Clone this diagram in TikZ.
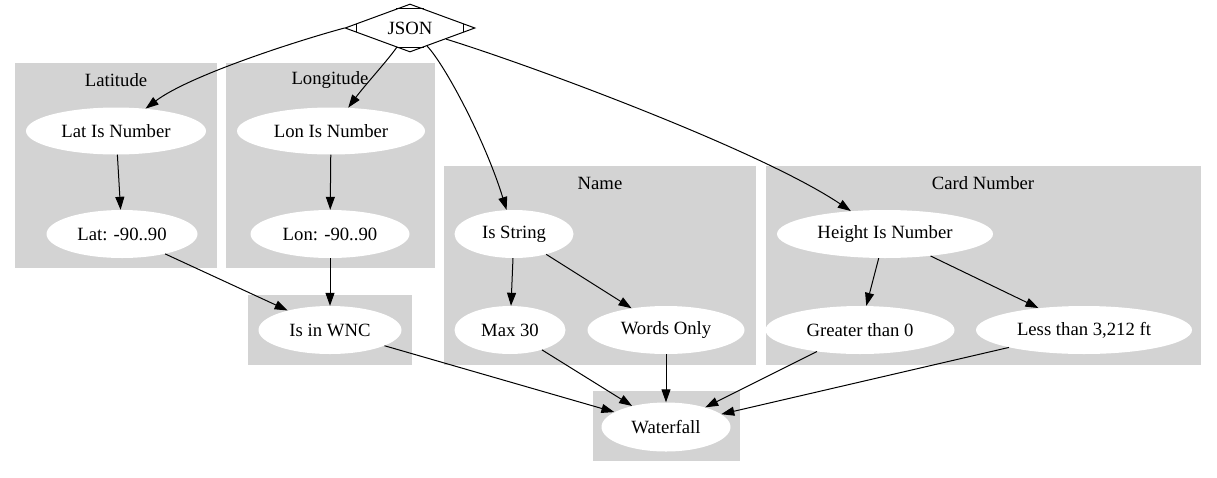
\documentclass[tikz,border=0pt]{standalone}
\usepackage{fontspec}
\setmainfont{Liberation Serif}
\usetikzlibrary{shapes.geometric,arrows.meta,calc}
\definecolor{clustergray}{HTML}{D3D3D3}
\tikzset{
  clusterbox/.style={fill=clustergray, draw=none},
  ell/.style={ellipse, fill=white, draw=none, inner sep=0pt, font=\fontsize{18.7}{22}\selectfont},
  lbl/.style={font=\fontsize{18.7}{22}\selectfont, inner sep=0pt},
  edge/.style={draw=black, line width=1pt, -{Triangle[length=13pt,width=9pt]}},
}
\begin{document}
\begin{tikzpicture}[x=1pt,y=-1pt]
\useasboundingbox (0,0) rectangle (1217,477);
% clusters
\fill[clusterbox] (15,63) rectangle (217,268);
\fill[clusterbox] (226,63) rectangle (435,268);
\fill[clusterbox] (248,295) rectangle (412,365);
\fill[clusterbox] (444,166) rectangle (756,365);
\fill[clusterbox] (766,166) rectangle (1201,365);
\fill[clusterbox] (593,391) rectangle (740,461);
% cluster labels
\node[lbl] (clat) at (116,80) {Latitude};
\node[lbl] (clon) at (330,80) {Longitude};
\node[lbl] (cname) at (600,183) {Name};
\node[lbl] (ccard) at (983,183) {Card Number};
% JSON Mdiamond
\node[diamond, aspect=2.7, draw, line width=1pt, fill=white, minimum width=130pt, minimum height=48pt, inner sep=0pt, font=\fontsize{18.7}{22}\selectfont] (json) at (410,28) {JSON};
\draw[line width=1pt] ($(json.north)!0.22!(json.west)$) -- ($(json.north)!0.22!(json.east)$);
\draw[line width=1pt] ($(json.south)!0.22!(json.west)$) -- ($(json.south)!0.22!(json.east)$);
\draw[line width=1pt] ($(json.west)!0.18!(json.north)$) -- ($(json.west)!0.18!(json.south)$);
\draw[line width=1pt] ($(json.east)!0.18!(json.north)$) -- ($(json.east)!0.18!(json.south)$);
% nodes
\node[ell, minimum width=180pt, minimum height=47pt] (latnum) at (116,131) {Lat Is Number};
\node[ell, minimum width=151pt, minimum height=48pt] (lat) at (122,234) {Lat: -90..90};
\node[ell, minimum width=188pt, minimum height=47pt] (lonnum) at (331,131) {Lon Is Number};
\node[ell, minimum width=159pt, minimum height=48pt] (lon) at (330,234) {Lon: -90..90};
\node[ell, minimum width=143pt, minimum height=48pt] (wnc) at (330,330) {Is in WNC};
\node[ell, minimum width=119pt, minimum height=48pt] (isstr) at (514,234) {Is String};
\node[ell, minimum width=111pt, minimum height=48pt] (max) at (510,330) {Max 30};
\node[ell, minimum width=157pt, minimum height=48pt] (words) at (666,330) {Words Only};
\node[ell, minimum width=129pt, minimum height=49pt] (water) at (666,427) {Waterfall};
\node[ell, minimum width=216pt, minimum height=48pt] (height) at (885,234) {Height Is Number};
\node[ell, minimum width=189pt, minimum height=48pt] (greater) at (860,330) {Greater than 0};
\node[ell, minimum width=216pt, minimum height=48pt] (less) at (1084,330) {Less than 3,212 ft};
% edges from JSON
\draw[edge] (json.west) .. controls (300,40) and (190,75) .. (latnum);
\draw[edge] (json) .. controls (388,60) and (365,85) .. (lonnum);
\draw[edge] (json) .. controls (445,65) and (485,140) .. (isstr);
\draw[edge] (json) .. controls (530,65) and (760,150) .. (height);
% inner edges
\draw[edge] (latnum) -- (lat);
\draw[edge] (lonnum) -- (lon);
\draw[edge] (lat) -- (wnc);
\draw[edge] (lon) -- (wnc);
\draw[edge] (isstr) -- (max);
\draw[edge] (isstr) -- (words);
\draw[edge] (height) -- (greater);
\draw[edge] (height) -- (less);
\draw[edge] (wnc) -- (water);
\draw[edge] (max) -- (water);
\draw[edge] (words) -- (water);
\draw[edge] (greater) -- (water);
\draw[edge] (less) -- (water);
\end{tikzpicture}
\end{document}
